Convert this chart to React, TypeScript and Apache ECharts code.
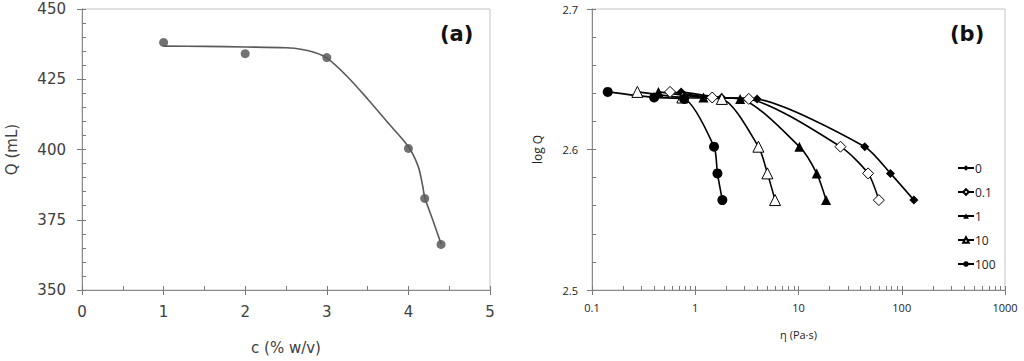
import React, { useEffect, useRef } from "react";
import * as echarts from "echarts";

// Panel (a)
const concentrations = [1, 2, 3, 4, 4.2, 4.4];
const volumeQ = [438.1, 434.1, 432.7, 400.4, 382.6, 366.2];
const fitC = [1, 1.5, 2, 2.5, 2.7, 2.85, 3, 3.25, 3.5, 3.75, 4, 4.12, 4.175, 4.2, 4.3, 4.4];
const fitQ = [436.8, 436.7, 436.5, 436.2, 435.6, 434.5, 432.6, 426, 418, 409.5, 401, 394, 387, 383, 374.8, 366.5];

// Panel (b)
const logQ = [2.641, 2.637, 2.636, 2.602, 2.583, 2.564];
const seriesNames = ["0", "0.1", "1", "10", "100"];
const eta0 = [0.73, 1.8, 3.97, 43.8, 77.7, 131];
const eta01 = [0.57, 1.46, 3.3, 25.5, 47.2, 60];
const eta1 = [0.44, 1.2, 2.72, 10.2, 15.0, 18.5];
const eta10 = [0.275, 0.75, 1.81, 4.09, 5.0, 5.93];
const eta100 = [0.142, 0.4, 0.78, 1.52, 1.64, 1.83];

const logDecades = [-1, 0, 1, 2];
const logMultipliers = [1, 2, 3, 4, 5, 6, 7, 8, 9];

export default function App() {
  const ref = useRef<HTMLDivElement>(null);
  useEffect(() => {
    if (!ref.current) return;
    const chart = echarts.init(ref.current, undefined, { renderer: "svg" });
    const fontA = "DejaVu Sans";
    const fontB = "Open Sans";
    const axisGrayA = "#8a8a8a";
    const tickGray = "#7a7a7a";
    const zip = (xs: number[], ys: number[]) => xs.map((x, i) => [x, ys[i]]);
    const minorLog: number[] = [];
    logDecades.forEach((d) => logMultipliers.forEach((m) => minorLog.push(Math.log10(m) + d)));
    minorLog.push(3);

    const hiddenAxis = () => ({
      axisLine: { show: true, onZero: false, lineStyle: { color: "rgba(0,0,0,0)" } },
      axisLabel: { show: false },
      splitLine: { show: false },
    });
    const minorTick = () => ({ show: true, inside: true, length: 4, lineStyle: { color: tickGray, width: 1 } });
    const majorTick = () => ({ show: true, inside: false, length: 5, lineStyle: { color: tickGray, width: 1 } });

    const bSeries = [
      { name: "0", data: eta0, symbol: "diamond", symbolSize: 9, fill: "#000" },
      { name: "0.1", data: eta01, symbol: "diamond", symbolSize: 11, fill: "#fff" },
      { name: "1", data: eta1, symbol: "triangle", symbolSize: 10, fill: "#000" },
      { name: "10", data: eta10, symbol: "triangle", symbolSize: 11, fill: "#fff" },
      { name: "100", data: eta100, symbol: "circle", symbolSize: 10, fill: "#000" },
    ];

    chart.setOption({
      animation: false,
      grid: [
        { left: 82, top: 9, width: 408, height: 281, show: true, borderColor: "#c4c4c4", borderWidth: 1 },
        { left: 592, top: 9, width: 413, height: 281, show: true, borderColor: "#c4c4c4", borderWidth: 1 },
      ],
      xAxis: [
        {
          gridIndex: 0, type: "value", min: 0, max: 5, interval: 1, position: "bottom",
          axisLine: { show: true, onZero: false, lineStyle: { color: axisGrayA } },
          axisTick: majorTick(),
          axisLabel: { margin: 14, fontSize: 15, fontFamily: fontA, color: "#404040" },
          splitLine: { show: false },
          name: "c (% w/v)", nameLocation: "middle", nameGap: 50,
          nameTextStyle: { fontSize: 15, fontFamily: fontA, color: "#404040" },
        },
        {
          gridIndex: 0, type: "value", min: 0, max: 5, interval: 0.5, position: "bottom",
          axisTick: minorTick(),
          ...hiddenAxis(),
        },
        {
          gridIndex: 1, type: "log", logBase: 10, min: 0.1, max: 1000, position: "bottom",
          axisLine: { show: true, onZero: false, lineStyle: { color: axisGrayA } },
          axisTick: majorTick(),
          axisLabel: { margin: 12, fontSize: 11, fontFamily: fontB, color: "#222", formatter: (v: number) => String(v) },
          splitLine: { show: false },
          minorTick: { show: false },
          name: "η (Pa·s)", nameLocation: "middle", nameGap: 39,
          nameTextStyle: { fontSize: 11, fontFamily: fontB, color: "#222" },
        },
        {
          gridIndex: 1, type: "value", min: -1, max: 3, interval: 1, position: "bottom",
          axisTick: { ...minorTick(), customValues: minorLog },
          ...hiddenAxis(),
        },
      ],
      yAxis: [
        {
          gridIndex: 0, type: "value", min: 350, max: 450, interval: 25, position: "left",
          axisLine: { show: true, onZero: false, lineStyle: { color: axisGrayA } },
          axisTick: majorTick(),
          axisLabel: { margin: 16, fontSize: 15, fontFamily: fontA, color: "#404040" },
          splitLine: { show: false },
          name: "Q (mL)", nameLocation: "middle", nameGap: 63,
          nameTextStyle: { fontSize: 15, fontFamily: fontA, color: "#404040" },
        },
        {
          gridIndex: 0, type: "value", min: 350, max: 450, interval: 5, position: "left",
          axisTick: minorTick(),
          ...hiddenAxis(),
        },
        {
          gridIndex: 1, type: "value", min: 2.5, max: 2.7, interval: 0.1, position: "left",
          axisLine: { show: true, onZero: false, lineStyle: { color: axisGrayA } },
          axisTick: majorTick(),
          axisLabel: { margin: 14, fontSize: 11, fontFamily: fontB, color: "#222", formatter: (v: number) => v.toFixed(1) },
          splitLine: { show: false },
          name: "log Q", nameLocation: "middle", nameGap: 49,
          nameTextStyle: { fontSize: 12, fontFamily: fontB, color: "#222" },
        },
        {
          gridIndex: 1, type: "value", min: 2.5, max: 2.7, interval: 0.02, position: "left",
          axisTick: minorTick(),
          ...hiddenAxis(),
        },
      ],
      legend: {
        data: seriesNames,
        orient: "vertical",
        left: 952,
        top: 157,
        itemWidth: 16,
        itemHeight: 7,
        itemGap: 12,
        textStyle: { fontSize: 12, fontFamily: fontB, color: "#222", padding: [0, 0, 0, -4] },
      },
      graphic: [
        { type: "text", left: 440, top: 23, style: { text: "(a)", font: "bold 21px 'DejaVu Sans'", fill: "#111" } },
        { type: "text", left: 950, top: 23, style: { text: "(b)", font: "bold 21px 'DejaVu Sans'", fill: "#111" } },
      ],
      series: [
        {
          type: "line", xAxisIndex: 0, yAxisIndex: 0,
          data: zip(fitC, fitQ), smooth: 0.3, showSymbol: false, symbol: "none",
          lineStyle: { color: "#5a5a5a", width: 1.6 },
          silent: true,
        },
        {
          type: "scatter", xAxisIndex: 0, yAxisIndex: 0,
          data: zip(concentrations, volumeQ), symbol: "circle", symbolSize: 9,
          itemStyle: { color: "#4f4f4f" },
        },
        ...bSeries.map((s) => ({
          type: "line", name: s.name, xAxisIndex: 2, yAxisIndex: 2,
          data: zip(s.data, logQ), smooth: 0.25,
          symbol: s.symbol, symbolSize: s.symbolSize, showSymbol: true,
          lineStyle: { color: "#000", width: 1.6 },
          itemStyle: { color: s.fill, borderColor: "#000", borderWidth: s.fill === "#fff" ? 1 : 0 },
        })),
      ],
    });
    return () => chart.dispose();
  }, []);
  return (
    <div
      ref={ref}
      style={{ position: "fixed", left: 0, top: 0, width: 1024, height: 361, background: "#fff" }}
    />
  );
}
